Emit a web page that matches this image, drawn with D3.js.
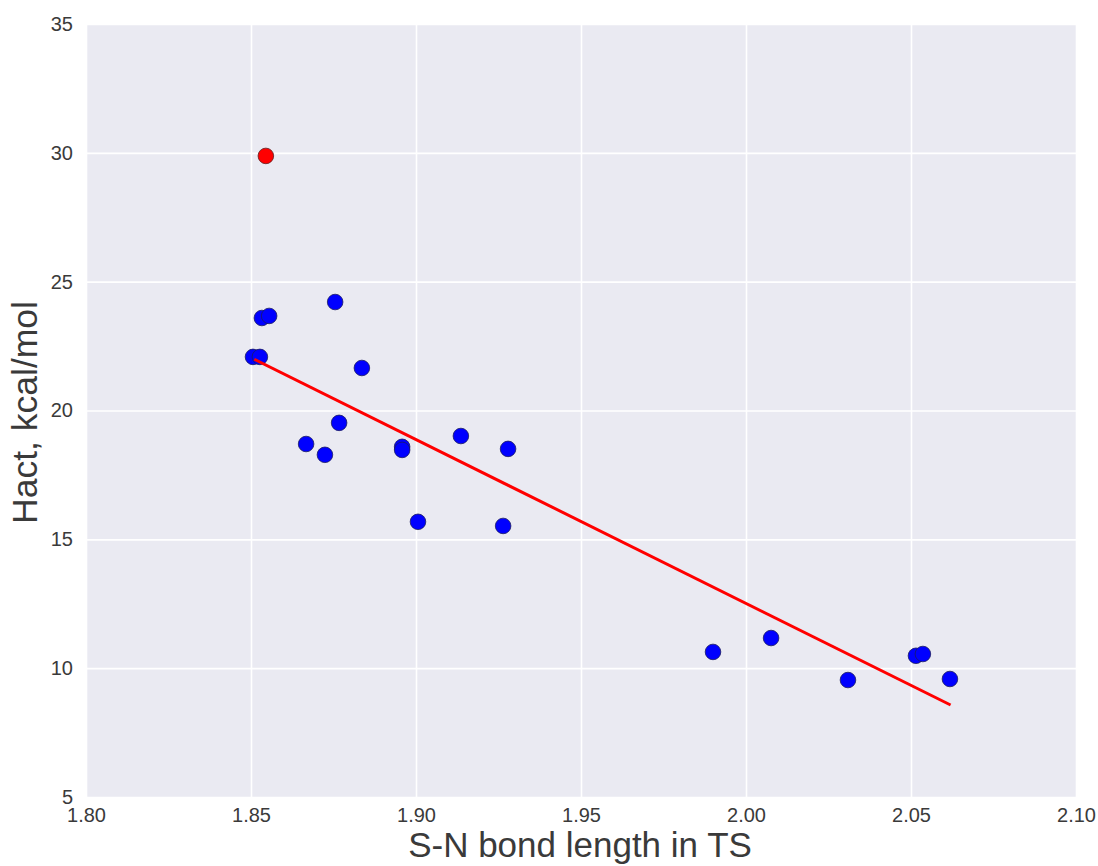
<!DOCTYPE html>
<html><head><meta charset="utf-8">
<script src="https://cdn.jsdelivr.net/npm/d3@7"></script>
<style>body{margin:0;background:#fff;} text{font-family:"Liberation Sans",Arial,sans-serif;}</style>
</head><body>
<svg id="c" width="1098" height="866"></svg>
<script>
const xTicks = [1.80, 1.85, 1.90, 1.95, 2.00, 2.05, 2.10];
const yTicks = [5, 10, 15, 20, 25, 30, 35];
const blueX = [1.8506, 1.8527, 1.8533, 1.8555, 1.8755, 1.8836, 1.8667, 1.8724, 1.8767, 1.8958, 1.8958, 1.9136, 1.9279, 1.9006, 1.9264, 1.9900, 2.0076, 2.0309, 2.0515, 2.0536, 2.0618];
const blueY = [22.08, 22.08, 23.59, 23.67, 24.21, 21.65, 18.70, 18.28, 19.52, 18.59, 18.47, 19.01, 18.51, 15.68, 15.52, 10.63, 11.17, 9.54, 10.48, 10.55, 9.58];
const redX = [1.8545];
const redY = [29.88];
const fitX = [1.851, 2.062];
const fitY = [21.99, 8.57];

const svg = d3.select("#c");
const L = 86, R = 1076, T = 24, B = 797;
const x = d3.scaleLinear().domain([1.80, 2.10]).range([L, R]);
const y = d3.scaleLinear().domain([5, 35]).range([B, T]);

svg.append("rect").attr("x", L).attr("y", T).attr("width", R - L).attr("height", B - T).attr("fill", "#EAEAF2");

const gx = svg.append("g").attr("transform", `translate(0,${B})`)
  .call(d3.axisBottom(x).tickValues(xTicks).tickFormat(d3.format(".2f")).tickSize(-(B - T)).tickPadding(11));
const gy = svg.append("g").attr("transform", `translate(${L},0)`)
  .call(d3.axisLeft(y).tickValues(yTicks).tickFormat(d3.format("d")).tickSize(-(R - L)).tickPadding(13));
[gx, gy].forEach(g => {
  g.select(".domain").remove();
  g.selectAll(".tick line").attr("stroke", "#fff").attr("stroke-width", 1.6);
  g.selectAll(".tick text").attr("fill", "#3a3a3a").style("font-size", "20px");
});
gy.selectAll(".tick text").attr("dy", "0.32em");

const pts = blueX.map((d, i) => [d, blueY[i]]);
svg.append("g").selectAll("circle").data(pts).join("circle")
  .attr("cx", d => x(d[0])).attr("cy", d => y(d[1])).attr("r", 7.8)
  .attr("fill", "#0000FF").attr("stroke", "#1a1a60").attr("stroke-width", 0.8);

svg.append("path").datum(fitX.map((d, i) => [d, fitY[i]]))
  .attr("d", d3.line().x(d => x(d[0])).y(d => y(d[1])))
  .attr("stroke", "#FF0000").attr("stroke-width", 3).attr("fill", "none");

svg.append("g").selectAll("circle").data(redX.map((d, i) => [d, redY[i]])).join("circle")
  .attr("cx", d => x(d[0])).attr("cy", d => y(d[1])).attr("r", 7.8)
  .attr("fill", "#FF0000").attr("stroke", "#601a1a").attr("stroke-width", 0.8);

svg.append("text").attr("x", (L + R) / 2 - 1).attr("y", 857).attr("text-anchor", "middle")
  .attr("fill", "#3a3a3a").style("font-size", "35px").text("S-N bond length in TS");
svg.append("text").attr("transform", `translate(37,${(T + B) / 2 + 2}) rotate(-90)`).attr("text-anchor", "middle")
  .attr("fill", "#3a3a3a").style("font-size", "35.5px").text("Hact, kcal/mol");
</script>
</body></html>
